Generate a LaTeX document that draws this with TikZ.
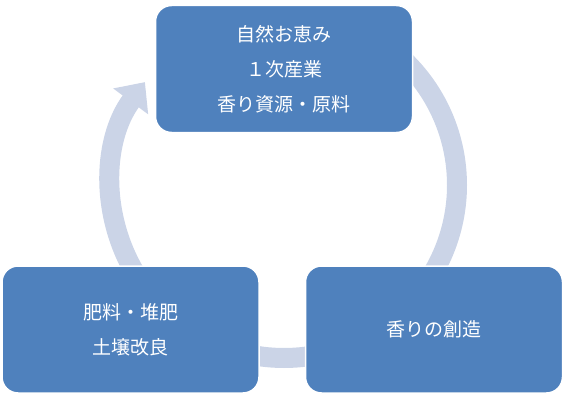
\documentclass[tikz,border=0pt]{standalone}
\usepackage{fontspec}
\usepackage{tikz}
\usetikzlibrary{shapes,arrows.meta}
\newfontfamily\jpfont{Noto Sans CJK JP}
\definecolor{sa_blue}{RGB}{79, 129, 189}
\definecolor{sa_light}{RGB}{203, 212, 231}
\tikzstyle{box}=[rectangle,rounded corners=16pt,fill=sa_blue,draw=white,
  line width=1.5pt,text=white,align=center,minimum width=257pt,minimum height=127pt,
  font=\jpfont\fontsize{19}{35}\selectfont]
\tikzstyle{ring}=[draw=sa_light,line width=20pt]
\begin{document}
\begin{tikzpicture}[x=1pt,y=1pt]
        \useasboundingbox (0,0) rectangle (568,400);
        \coordinate (c) at (284,215);
        \draw [style=ring] (c) ++(60:173) arc[start angle=60,end angle=-35,radius=173];
        \draw [style=ring] (c) ++(-60:173) arc[start angle=-60,end angle=-120,radius=173];
        \draw [style=ring,-{Triangle[length=24pt,width=42pt]}] (c) ++(215:173)
            arc[start angle=215,end angle=143.5,radius=173];
        \node [style=box] (nat) at (284,331) {自然お恵み\\１次産業\\香り資源・原料};
        \node [style=box] (fert) at (130.5,70.5) {肥料・堆肥\\土壌改良};
        \node [style=box] (cre) at (434,70.5) {香りの創造};
    \end{tikzpicture}
\end{document}
